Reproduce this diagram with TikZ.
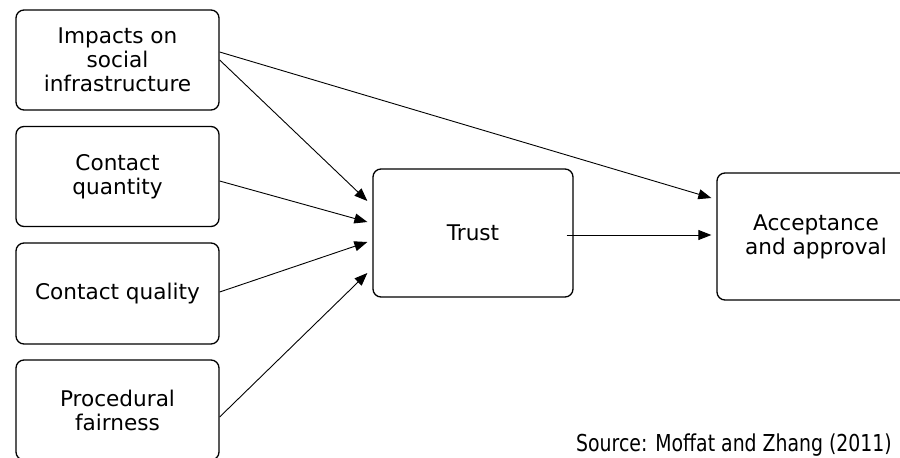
\documentclass[tikz,border=0pt]{standalone}
\usepackage{fontspec}
\setmainfont{DejaVu Sans}
\newfontfamily\srcfont[FakeStretch=0.81]{DejaVu Sans}
\usetikzlibrary{arrows.meta}
\begin{document}
\begin{tikzpicture}[x=1pt,y=-1pt,
  box/.style={draw, rounded corners=8pt, line width=1.3pt, align=center, inner sep=0pt,
    minimum width=203pt, font=\fontsize{21.6}{24}\selectfont},
  arr/.style={line width=0.9pt, -{Triangle[length=13pt,width=10pt]}}]
\useasboundingbox (0,0) rectangle (900,458);
\clip (0,0) rectangle (900,458);
\node[box, minimum height=100pt] (b1) at (117.5,60) {Impacts on\\social\\infrastructure};
\node[box, minimum height=100pt] (b2) at (117.5,176.5) {Contact\\quantity};
\node[box, minimum height=101pt] (b3) at (117.5,293.5) {Contact quality};
\node[box, minimum height=100pt] (b4) at (117.5,410) {Procedural\\fairness};
\node[box, minimum width=200pt, minimum height=128pt] (tr) at (473,233) {Trust};
\node[box, minimum width=198pt, minimum height=127pt] (ac) at (816,236.5) {Acceptance\\and approval};
\node[anchor=base west, inner sep=0pt, font=\srcfont\fontsize{23.3}{28}\selectfont] (src) at (576,451) {Source: Moffat and Zhang (2011)};
\draw[arr] ([yshift=8pt]b1.east) -- ([xshift=-5pt,yshift=38.5pt]ac.west);
\draw[arr] (b1.east) -- ([xshift=-5pt,yshift=32pt]tr.west);
\draw[arr] ([yshift=-4.5pt]b2.east) -- ([xshift=-5pt,yshift=11pt]tr.west);
\draw[arr] ([yshift=1.5pt]b3.east) -- ([xshift=-5pt,yshift=-9pt]tr.west);
\draw[arr] ([yshift=-7pt]b4.east) -- ([xshift=-5pt,yshift=-40pt]tr.west);
\draw[arr] ([xshift=-7pt,yshift=-2pt]tr.east) -- ([xshift=-5pt,yshift=1.5pt]ac.west);
\end{tikzpicture}
\end{document}
